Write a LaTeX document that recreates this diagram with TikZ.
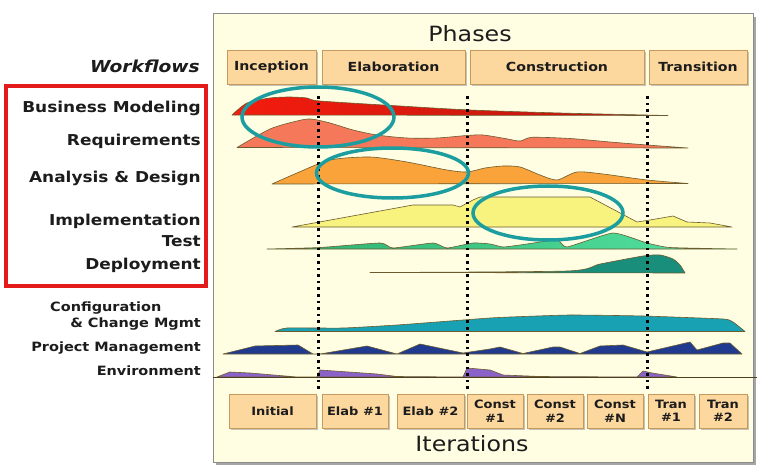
\documentclass[tikz,border=0pt]{standalone}
\usepackage{fontspec}
\setmainfont{DejaVu Sans}[FakeStretch=1.13]
\usetikzlibrary{shadows}
\definecolor{panelfill}{HTML}{FFFDE2}
\definecolor{panelborder}{HTML}{8A8A8A}
\definecolor{boxfill}{HTML}{FCD79E}
\definecolor{boxborder}{HTML}{C49A5E}
\definecolor{redA}{HTML}{F41C0E}
\definecolor{redB}{HTML}{B8160E}
\definecolor{salmon}{HTML}{F6785A}
\definecolor{orangeW}{HTML}{F9A33A}
\definecolor{yellowW}{HTML}{F8F27E}
\definecolor{greenA}{HTML}{2DAF6F}
\definecolor{greenB}{HTML}{55E4A2}
\definecolor{deploy}{HTML}{198E7B}
\definecolor{config}{HTML}{17A1B2}
\definecolor{pmblue}{HTML}{1F3A8E}
\definecolor{envpurple}{HTML}{8B63C8}
\definecolor{ringteal}{HTML}{1C9EA0}
\definecolor{frame}{HTML}{E31B1B}
\definecolor{txt}{HTML}{1C1C1C}
\definecolor{humpline}{HTML}{6B5B2E}
\tikzset{
  phasebox/.style={draw=boxborder, fill=boxfill, line width=0.8pt, inner sep=0pt,
    minimum height=34, text=txt, font=\bfseries\fontsize{12.5}{14}\selectfont,
    drop shadow={shadow xshift=1.8pt, shadow yshift=-1.8pt, opacity=0.45}},
  iterbox/.style={phasebox, align=center, font=\bfseries\fontsize{11.5}{13.5}\selectfont},
  wflabel/.style={anchor=east, inner sep=0pt, text=txt, font=\bfseries\fontsize{15}{18}\selectfont},
  wfsmall/.style={wflabel, font=\bfseries\fontsize{12.8}{15}\selectfont},
  hump/.style={draw=humpline, line width=0.6pt, line join=round},
  ring/.style={draw=ringteal, line width=3.5pt},
  dotline/.style={draw=black, line width=3pt, dash pattern=on 2.6pt off 4pt},
  bigtitle/.style={text=txt, font=\fontsize{21}{24}\selectfont}
}
\begin{document}
\begin{tikzpicture}[x=1pt,y=-1pt]
\useasboundingbox (0,0) rectangle (766,468);
\fill[white] (0,0) rectangle (766,468);
% panel
\fill[black!35] (216,17) rectangle (756,465);
\draw[panelborder, fill=panelfill, line width=1pt] (213,14) rectangle (753,462);
\node[bigtitle] (phases) at (470,34) {Phases};
\node[bigtitle] (iterations) at (472,444) {Iterations};
% phase boxes
\node[phasebox, minimum width=89] (inc) at (271.5,67) {Inception};
\node[phasebox, minimum width=143] (ela) at (393.5,67) {Elaboration};
\node[phasebox, minimum width=174] (con) at (557,67) {Construction};
\node[phasebox, minimum width=98] (tra) at (698,67) {Transition};
% iteration boxes
\node[iterbox, minimum width=87] (it1) at (272.5,411) {Initial};
\node[iterbox, minimum width=66] (it2) at (355,411) {Elab \#1};
\node[iterbox, minimum width=67] (it3) at (430.5,411) {Elab \#2};
\node[iterbox, minimum width=56] (it4) at (495,411) {Const\\\#1};
\node[iterbox, minimum width=56] (it5) at (555,411) {Const\\\#2};
\node[iterbox, minimum width=56] (it6) at (615,411) {Const\\\#N};
\node[iterbox, minimum width=46] (it7) at (671,411) {Tran\\\#1};
\node[iterbox, minimum width=48] (it8) at (723,411) {Tran\\\#2};
% humps
\path[hump, left color=redA, right color=redB] plot[smooth, tension=0.45] coordinates {(232,115) (247,103) (270,98) (290,97) (307,98) (320,101) (400,106) (470,110) (560,113) (668,115.5)} -- cycle;
\path[hump, fill=salmon] plot[smooth, tension=0.45] coordinates {(237,147.5) (270,129) (297,121) (311,119) (330,123) (353,130) (377,135) (407,138) (437,138) (467,135.5) (483,135) (505,138.5) (520,141) (532,137.3) (570,138.5) (610,142) (647,145) (688,148)} -- cycle;
\path[hump, fill=orangeW] plot[smooth, tension=0.45] coordinates {(272,184) (297,173) (330,160) (370,157) (407,162) (447,170) (467,172) (485,168) (503,166) (520,167) (540,175) (557,180) (577,172) (603,174) (647,180) (688,183.5)} -- cycle;
\path[hump, fill=yellowW] (292,227) -- (413,205) -- (453,205) -- (460,207) -- (473,200) -- (480,197) -- (590,197) -- (637,222) -- (650,220) -- (673,216) -- (687,222) -- (710,223) -- (732,227) -- cycle;
\path[hump, left color=greenA, right color=greenB] plot[smooth, tension=0.3] coordinates {(267,249) (320,247.5) (380,243) (393,248) (433,243) (447,248) (473,243) (490,244) (503,247) (520,245) (557,240) (567,247) (613,233) (647,243) (670,247.5) (737,249)} -- cycle;
\path[hump, fill=deploy] plot[smooth, tension=0.4] coordinates {(370,272.5) (567,271) (600,264) (643,256) (660,255) (673,259) (680,265) (685,273)} -- cycle;
\path[hump, fill=config] plot[smooth, tension=0.3] coordinates {(275,331.5) (287,328) (343,328) (397,325) (463,320) (490,318) (510,317) (570,315) (643,316) (723,319) (733,322) (745,331.5)} -- cycle;
\path[hump, fill=pmblue] (223,354) -- (255,346) -- (298,345) -- (313,354) -- (320,354) -- (367,346) -- (397,354) -- (420,344) -- (463,353) -- (490,349) -- (500,347) -- (523,353.5) -- (553,347) -- (560,347) -- (580,353.5) -- (600,346) -- (623,345) -- (647,352) -- (690,342) -- (697,350) -- (723,343) -- (730,343) -- (742,354) -- cycle;
\path[hump, fill=envpurple] (217,377) -- (230,372) -- (250,373) -- (297,377) -- (317,377) -- (320,370) -- (377,374) -- (397,376.5) -- (463,377) -- (467,368) -- (490,370) -- (503,375) -- (540,376.5) -- (637,377) -- (643,371) -- (652,373) -- (677,377) -- cycle;
\coordinate (envL) at (213,377.5);
\coordinate (envR) at (757,377.5);
\draw[humpline!70!black, line width=0.9pt] (envL) -- (envR);
% dotted phase separators
\coordinate (d1t) at (318,96); \coordinate (d1b) at (318,392);
\coordinate (d2t) at (467,96); \coordinate (d2b) at (467,392);
\coordinate (d3t) at (647,96); \coordinate (d3b) at (647,392);
\draw[dotline] (d1t) -- (d1b);
\draw[dotline] (d2t) -- (d2b);
\draw[dotline] (d3t) -- (d3b);
% highlight rings
\coordinate (r1) at (318,117);
\coordinate (r2) at (392.5,173);
\coordinate (r3) at (548,213);
\draw[ring] (r1) ellipse [x radius=76, y radius=30];
\draw[ring] (r2) ellipse [x radius=76, y radius=25];
\draw[ring] (r3) ellipse [x radius=75, y radius=27];
% labels
\node[anchor=east, inner sep=0pt, text=txt, font=\bfseries\itshape\fontsize{16.5}{19}\selectfont] (wf) at (200,66) {Workflows};
\node[wflabel] (bm) at (201,108) {Business Modeling};
\node[wflabel] (rq) at (201,141.5) {Requirements};
\node[wflabel] (ad) at (201,178) {Analysis \& Design};
\node[wflabel] (im) at (201,221) {Implementation};
\node[wflabel] (ts) at (201,241.5) {Test};
\node[wflabel] (dp) at (201,265.5) {Deployment};
\node[wfsmall, anchor=west] (cf1) at (50,308.5) {Configuration};
\node[wfsmall] (cf2) at (201,324.5) {\& Change Mgmt};
\node[wfsmall] (pm) at (201,348) {Project Management};
\node[wfsmall] (en) at (201,371) {Environment};
\draw[frame, line width=3.5pt] (6,86) rectangle (206,286);
\end{tikzpicture}
\end{document}
